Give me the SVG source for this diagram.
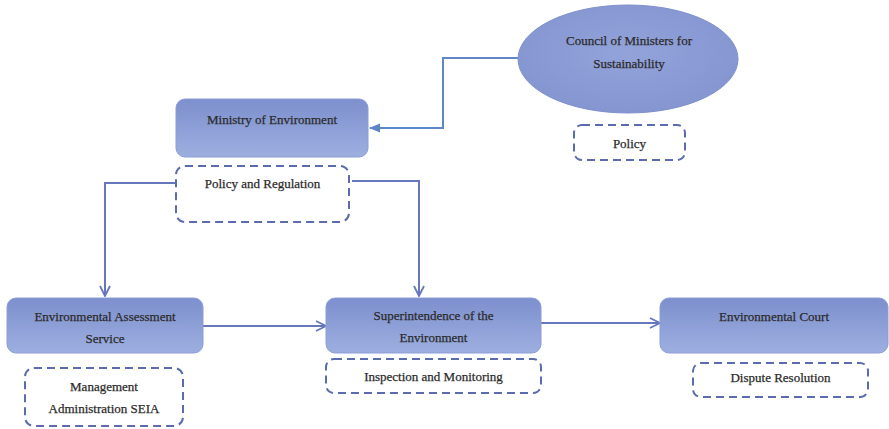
<svg xmlns="http://www.w3.org/2000/svg" width="889" height="429" viewBox="0 0 889 429">
<defs>
<linearGradient id="g" x1="0" y1="0" x2="0" y2="1">
<stop offset="0" stop-color="#7d8fcd"/>
<stop offset="1" stop-color="#9dafe0"/>
</linearGradient>
<radialGradient id="ge" cx="0.5" cy="0.45" r="0.6">
<stop offset="0" stop-color="#93a3da"/>
<stop offset="1" stop-color="#8394d0"/>
</radialGradient>
<marker id="chev" viewBox="0 0 12 12" refX="11" refY="6" markerWidth="12" markerHeight="12" markerUnits="userSpaceOnUse" orient="auto">
<path d="M1,1 L11,6 L1,11" fill="none" stroke="#6677bb" stroke-width="1.8"/>
</marker>
<marker id="tri" viewBox="0 0 12 12" refX="11" refY="6" markerWidth="11" markerHeight="11" markerUnits="userSpaceOnUse" orient="auto">
<path d="M0,1 L12,6 L0,11 Z" fill="#5b86c8"/>
</marker>
</defs>
<style>
.box{fill:url(#g);stroke:#8c9dd6;stroke-width:1}
.dash{fill:#fff;stroke:#5a6cad;stroke-width:2;stroke-dasharray:8 5}
.t{font-family:"Liberation Serif",serif;font-size:13px;fill:#2b2b2b;text-anchor:middle;stroke:#2b2b2b;stroke-width:0.25}
.c{fill:none;stroke:#6677bb;stroke-width:2}
</style>
<rect width="889" height="429" fill="#fff"/>
<g id="connectors">
<path class="c" d="M518,58 H443 V128 H370" stroke="#5b86c8" style="stroke:#5f86c6" marker-end="url(#tri)"/>
<path class="c" d="M176,183 H105 V296" marker-end="url(#chev)"/>
<path class="c" d="M352,181 H419 V296" marker-end="url(#chev)"/>
<path class="c" d="M203,326 H326" marker-end="url(#chev)"/>
<path class="c" d="M541,323 H660" marker-end="url(#chev)"/>
</g>
<g id="council">
<ellipse cx="628" cy="59" rx="110" ry="54" fill="url(#ge)" stroke="#7f90cc" stroke-width="1"/>
<text class="t" x="629" y="45">Council of Ministers for</text>
<text class="t" x="629" y="68">Sustainability</text>
</g>
<g id="policy">
<rect class="dash" x="574" y="125" width="111" height="35" rx="8"/>
<text class="t" x="629.5" y="148">Policy</text>
</g>
<g id="ministry">
<rect class="box" x="176" y="99" width="192" height="58" rx="9"/>
<text class="t" x="272" y="124">Ministry of Environment</text>
</g>
<g id="policy-regulation">
<rect class="dash" x="176" y="166" width="173" height="56" rx="9"/>
<text class="t" x="262.5" y="188">Policy and Regulation</text>
</g>
<g id="eas">
<rect class="box" x="7" y="298" width="196" height="55" rx="9"/>
<text class="t" x="105" y="321">Environmental Assessment</text>
<text class="t" x="105" y="343">Service</text>
</g>
<g id="management">
<rect class="dash" x="25" y="368" width="158" height="58" rx="9"/>
<text class="t" x="104" y="391">Management</text>
<text class="t" x="104" y="413">Administration SEIA</text>
</g>
<g id="superintendence">
<rect class="box" x="326" y="298" width="215" height="55" rx="9"/>
<text class="t" x="433.5" y="320">Superintendence of the</text>
<text class="t" x="433.5" y="342">Environment</text>
</g>
<g id="inspection">
<rect class="dash" x="326" y="359" width="215" height="34" rx="8"/>
<text class="t" x="433.5" y="381">Inspection and Monitoring</text>
</g>
<g id="court">
<rect class="box" x="660" y="298" width="228" height="55" rx="9"/>
<text class="t" x="774" y="321">Environmental Court</text>
</g>
<g id="dispute">
<rect class="dash" x="693" y="363" width="175" height="34" rx="8"/>
<text class="t" x="780.5" y="382">Dispute Resolution</text>
</g>
</svg>
